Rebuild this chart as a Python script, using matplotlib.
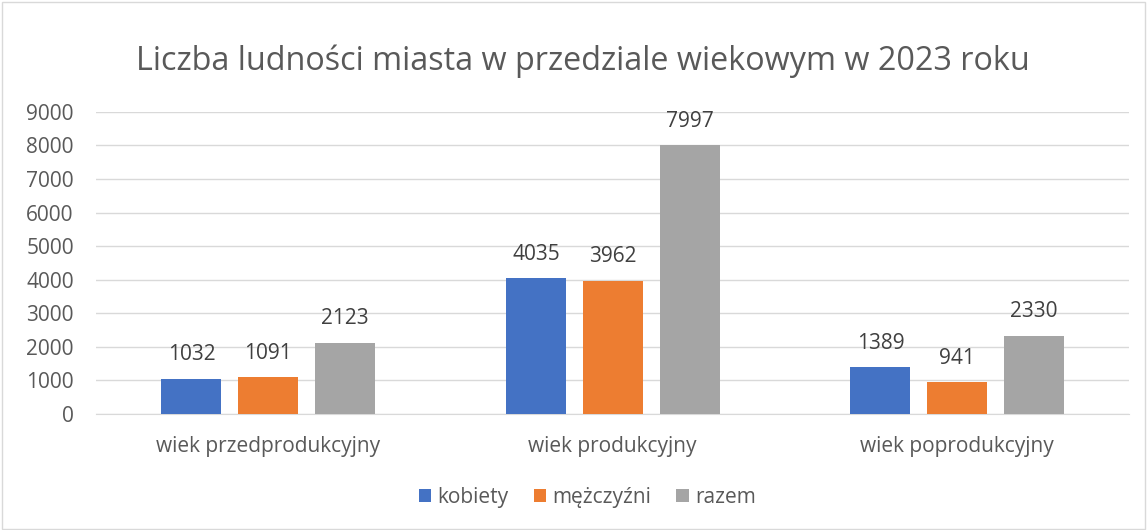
import numpy as np
import matplotlib.pyplot as plt
from matplotlib.patches import Rectangle

categories = ['wiek przedprodukcyjny', 'wiek produkcyjny', 'wiek poprodukcyjny']
series_names = ['kobiety', 'mężczyźni', 'razem']
kobiety = [1032, 4035, 1389]
mezczyzni = [1091, 3962, 941]
razem = [2123, 7997, 2330]
colors = ['#4472C4', '#ED7D31', '#A5A5A5']

plt.rcParams['font.family'] = ['Open Sans', 'DejaVu Sans']
text_color = '#595959'

fig = plt.figure(figsize=(11.47, 5.30), dpi=100)
ax = fig.add_axes([0.0837, 0.219, 0.901, 0.570])

x = np.arange(len(categories))
width = 0.174
step = 0.223
for i, (vals, name) in enumerate(zip([kobiety, mezczyzni, razem], series_names)):
    pos = x + (i - 1) * step
    ax.bar(pos, vals, width, color=colors[i], label=name, zorder=3)
    for p, v in zip(pos, vals):
        ax.annotate(str(v), (p, v), xytext=(0, 17.5), textcoords='offset points',
                    ha='center', va='center', fontsize=15, color='#404040')

ax.set_ylim(0, 9000)
ax.set_yticks(range(0, 9001, 1000))
ax.set_xlim(-0.5, 2.5)
ax.set_xticks(x)
ax.set_xticklabels(categories)
ax.grid(axis='y', color='#D9D9D9', lw=1, zorder=0)
for s in ['top', 'right', 'left']:
    ax.spines[s].set_visible(False)
ax.spines['bottom'].set_color('#D9D9D9')
ax.tick_params(length=0, labelsize=15, colors=text_color)
ax.tick_params(axis='x', pad=16)
ax.tick_params(axis='y', pad=16)

fig.text(0.508, 0.884, 'Liczba ludności miasta w przedziale wiekowym w 2023 roku',
         ha='center', va='center', fontsize=23.3, color=text_color)

leg = fig.legend(loc='center', bbox_to_anchor=(0.512, 0.062), ncol=3, frameon=False,
                 fontsize=15, handlelength=0.6, handleheight=0.6,
                 handletextpad=0.3, columnspacing=1.2)
for t in leg.get_texts():
    t.set_color(text_color)

fig.patches.append(Rectangle((0.002, 0.002), 0.996, 0.994, transform=fig.transFigure,
                             fill=False, edgecolor='#D9D9D9', lw=1))

fig.savefig('out.png', dpi=100)
